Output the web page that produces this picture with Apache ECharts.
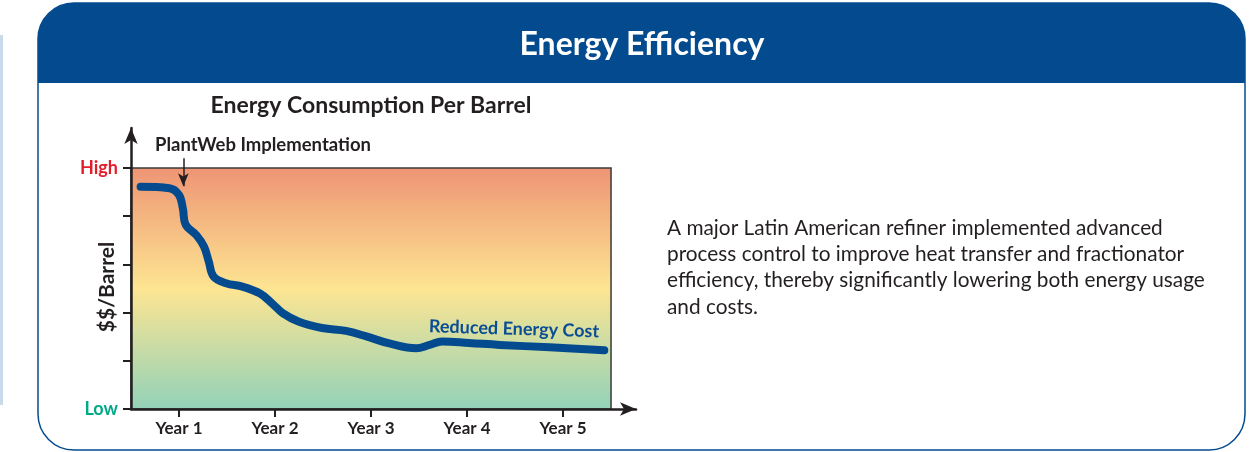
<!DOCTYPE html>
<html>
<head>
<meta charset="utf-8">
<title>Energy Efficiency</title>
<script src="https://cdn.jsdelivr.net/npm/echarts@6/dist/echarts.min.js"></script>
<style>
  html, body { margin: 0; padding: 0; background: #fff; }
  #main { width: 1253px; height: 452px; }
</style>
</head>
<body>
<div id="main"></div>
<script>
// data: x in years, y on a 0 (Low) .. 5 (High) scale
var yearTicks = [1, 2, 3, 4, 5];
var yearLabels = ['Year 1', 'Year 2', 'Year 3', 'Year 4', 'Year 5'];
var levelTicks = [0, 1, 2, 3, 4, 5];
var levelLabels = { 0: 'Low', 5: 'High' };
var costX = [0.60, 0.90, 1.00, 1.04, 1.07, 1.18, 1.26, 1.31, 1.36, 1.49, 1.66, 1.84, 1.97,
             2.08, 2.25, 2.49, 2.74, 2.96, 3.19, 3.47, 3.61, 3.74, 4.02, 4.34, 4.86, 5.43];
var costY = [4.61, 4.58, 4.44, 4.16, 3.82, 3.61, 3.37, 3.06, 2.75, 2.61, 2.54, 2.40, 2.19,
             1.99, 1.81, 1.68, 1.62, 1.50, 1.36, 1.26, 1.33, 1.40, 1.37, 1.33, 1.28, 1.22];
var implementX = 1.045;      // PlantWeb arrow position
var implementY = [5.2, 4.62];

var font = 'Lato, "Open Sans", sans-serif';
var dark = '#231f20';
var blue = '#034b8e';

var chart = echarts.init(document.getElementById('main'));

var points = costX.map(function (x, i) { return [x, costY[i]]; });

var option = {
    animation: false,
    textStyle: { fontFamily: font },
    graphic: [
        { type: 'rect', z: -1, shape: { x: 0, y: 35, width: 3, height: 370 }, style: { fill: '#c9d8ea' } },
        { type: 'rect', z: -1, shape: { x: 38, y: 3, width: 1207, height: 447, r: 36 },
          style: { fill: '#fff', stroke: blue, lineWidth: 1.5 } },
        { type: 'rect', z: -1, shape: { x: 38, y: 3, width: 1207, height: 80, r: [36, 36, 0, 0] },
          style: { fill: blue } },
        { type: 'text', z: 10, x: 642, y: 45, style: { text: 'Energy Efficiency', fill: '#fff', font: 'bold 32px ' + font,
          textAlign: 'center', textVerticalAlign: 'middle' } },
        { type: 'text', z: 10, x: 371, y: 106, style: { text: 'Energy Consumption Per Barrel', fill: dark,
          font: 'bold 23px ' + font, textAlign: 'center', textVerticalAlign: 'middle' } },
        { type: 'text', z: 10, x: 155, y: 145, style: { text: 'PlantWeb Implementation', fill: dark,
          font: 'bold 18.5px ' + font, textAlign: 'left', textVerticalAlign: 'middle' } },
        { type: 'text', z: 10, x: 514, y: 329, rotation: -0.03, style: { text: 'Reduced Energy Cost', fill: '#0a4d94',
          font: 'bold 18px ' + font, textAlign: 'center', textVerticalAlign: 'middle' } },
        { type: 'text', z: 10, x: 107, y: 287, rotation: Math.PI / 2, style: { text: '$$/Barrel', fill: dark,
          font: 'bold 21px ' + font, textAlign: 'center', textVerticalAlign: 'middle' } },
        { type: 'text', z: 10, x: 667, y: 215, style: {
          text: 'A major Latin American refiner implemented advanced\n' +
                'process control to improve heat transfer and fractionator\n' +
                'efficiency, thereby significantly lowering both energy usage\n' +
                'and costs.',
          fill: dark, font: '20.8px ' + font, lineHeight: 26.3 } }
    ],
    grid: { left: 131, top: 128, right: 617, bottom: 43 },
    xAxis: {
        type: 'value', min: 0.5, max: 5.76, z: 5,
        axisLine: { lineStyle: { color: dark, width: 2.5 }, symbol: ['none', 'arrow'], symbolSize: [10, 16] },
        axisTick: { show: true, length: 8, lineStyle: { color: dark, width: 2 }, customValues: yearTicks },
        axisLabel: { customValues: yearTicks, margin: 11, color: dark, fontSize: 17, fontWeight: 'bold',
            formatter: function (v) { return yearLabels[yearTicks.indexOf(v)] || ''; } },
        splitLine: { show: false }
    },
    yAxis: {
        type: 'value', min: 0, max: 5.83, z: 5,
        axisLine: { show: true, lineStyle: { color: dark, width: 2.5 }, symbol: ['none', 'arrow'], symbolSize: [10, 16] },
        axisTick: { show: true, length: 8, lineStyle: { color: dark, width: 2 }, customValues: levelTicks },
        axisLabel: { customValues: [0, 5], margin: 13, fontSize: 18, fontWeight: 'bold',
            formatter: function (v) { return v === 5 ? '{hi|' + levelLabels[5] + '}' : '{lo|' + levelLabels[0] + '}'; },
            rich: {
                hi: { color: '#e31e2a', fontSize: 18, fontWeight: 'bold', fontFamily: font },
                lo: { color: '#00a886', fontSize: 18, fontWeight: 'bold', fontFamily: font }
            } },
        splitLine: { show: false }
    },
    series: [{
        type: 'line',
        data: points,
        smooth: 0.4,
        showSymbol: false,
        silent: true,
        lineStyle: { color: blue, width: 8, cap: 'round', join: 'round' },
        markArea: {
            silent: true,
            itemStyle: {
                color: new echarts.graphic.LinearGradient(0, 0, 0, 1, [
                    { offset: 0, color: '#ee9474' },
                    { offset: 0.5, color: '#fde592' },
                    { offset: 1, color: '#92d2b9' }
                ]),
                borderColor: '#3a3a3a',
                borderWidth: 1.5
            },
            data: [[{ coord: [0.5, 0] }, { coord: [5.5, 5] }]]
        },
        markLine: {
            silent: true,
            symbol: ['none', 'arrow'],
            symbolSize: [8, 13],
            label: { show: false },
            lineStyle: { color: dark, width: 1.5, type: 'solid' },
            data: [[{ coord: [implementX, implementY[0]] }, { coord: [implementX, implementY[1]] }]]
        }
    }]
};

chart.setOption(option);
</script>
</body>
</html>
